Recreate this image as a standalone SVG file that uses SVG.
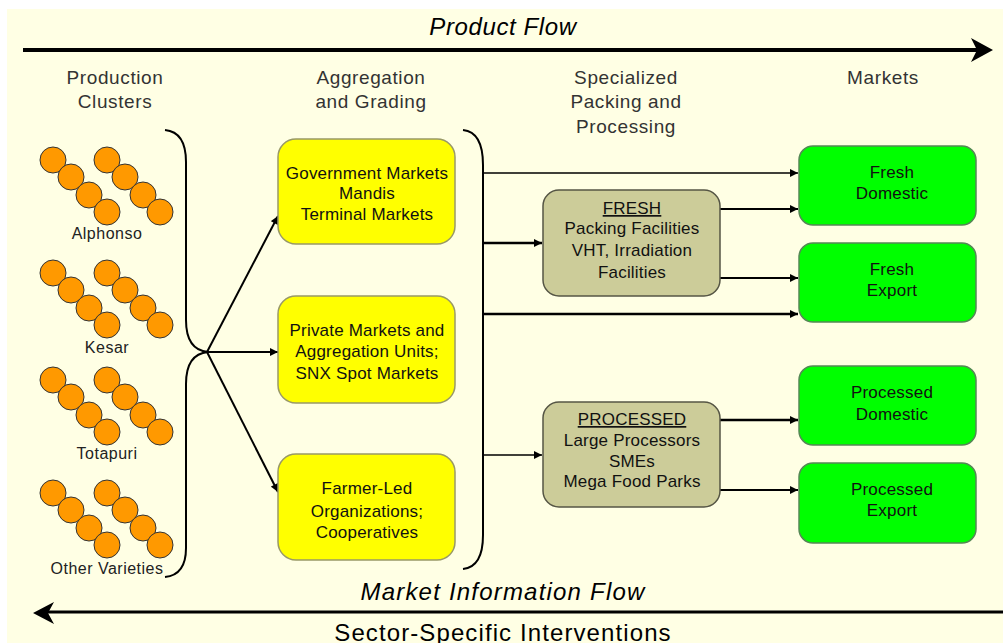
<svg xmlns="http://www.w3.org/2000/svg" width="1007" height="643" viewBox="0 0 1007 643">
<defs>
<style>
text{font-family:"Liberation Sans",Arial,sans-serif;text-anchor:middle;fill:#111}
.hdr{font-size:19px;fill:#333;letter-spacing:0.6px}
.flow{font-size:24px;font-style:italic;fill:#000}
.lbl{font-size:16px;fill:#222;letter-spacing:0.5px}
.bx{font-size:17px;letter-spacing:0.2px}
.yel{fill:#FFFF00;stroke:#999966;stroke-width:1.5}
.kha{fill:#CCCC99;stroke:#555544;stroke-width:1.5}
.grn{fill:#00FF00;stroke:#558855;stroke-width:1.5}
.mango{fill:#FF9900;stroke:#333;stroke-width:1}
.ln{fill:none;stroke:#000}
.brace{fill:none;stroke:#000;stroke-width:2}
</style>
<marker id="ah" viewBox="0 0 10 10" refX="10" refY="5" markerWidth="9" markerHeight="8" markerUnits="userSpaceOnUse" orient="auto">
<path d="M0,0 L10,5 L0,10 Z" fill="#000"/>
</marker>
<g id="cl">
<circle class="mango" cx="53" cy="0" r="13"/>
<circle class="mango" cx="71" cy="17" r="13"/>
<circle class="mango" cx="89" cy="35" r="13"/>
<circle class="mango" cx="107" cy="52" r="13"/>
<circle class="mango" cx="107" cy="0" r="13"/>
<circle class="mango" cx="125" cy="17" r="13"/>
<circle class="mango" cx="143" cy="35" r="13"/>
<circle class="mango" cx="160" cy="52" r="13"/>
</g>
</defs>
<rect x="0" y="0" width="1007" height="643" fill="#FFFFFF"/>
<rect x="7" y="9" width="996" height="634" fill="#FFFFE4"/>

<text class="flow" x="503" y="35" style="letter-spacing:0.6px">Product Flow</text>
<line x1="23" y1="50" x2="978" y2="50" stroke="#000" stroke-width="4"/>
<path d="M993,50 L971,38 L977,50 L971,62 Z" fill="#000"/>

<text class="hdr" x="115" y="84">Production</text>
<text class="hdr" x="115" y="108">Clusters</text>
<text class="hdr" x="371" y="84">Aggregation</text>
<text class="hdr" x="371" y="108">and Grading</text>
<text class="hdr" x="626" y="84">Specialized</text>
<text class="hdr" x="626" y="108">Packing and</text>
<text class="hdr" x="626" y="133">Processing</text>
<text class="hdr" x="883" y="84">Markets</text>

<g id="alphonso"><use href="#cl" y="160"/><text class="lbl" x="107" y="239">Alphonso</text></g>
<g id="kesar"><use href="#cl" y="273"/><text class="lbl" x="107" y="353">Kesar</text></g>
<g id="totapuri"><use href="#cl" y="380"/><text class="lbl" x="107" y="459">Totapuri</text></g>
<g id="other"><use href="#cl" y="493"/><text class="lbl" x="107" y="574">Other Varieties</text></g>

<g id="connectors">
<path class="brace" d="M165,130 Q186,132 186,162 L186,320 Q186,350 208,352"/>
<path class="brace" d="M208,352 Q186,354 186,384 L186,548 Q186,575 165,577"/>
<path class="brace" d="M463,130 Q483,132 483,165 L483,535 Q483,567 463,569"/>
<line class="ln" stroke-width="2" x1="207" y1="352" x2="278" y2="216" marker-end="url(#ah)"/>
<line class="ln" stroke-width="2" x1="207" y1="352" x2="278" y2="352" marker-end="url(#ah)"/>
<line class="ln" stroke-width="2" x1="207" y1="352" x2="278" y2="492" marker-end="url(#ah)"/>
<line class="ln" stroke-width="1.5" x1="483" y1="173" x2="798" y2="173" marker-end="url(#ah)"/>
<line class="ln" stroke-width="2.5" x1="483" y1="243" x2="542" y2="243" marker-end="url(#ah)"/>
<line class="ln" stroke-width="2.5" x1="483" y1="314" x2="798" y2="314" marker-end="url(#ah)"/>
<line class="ln" stroke-width="1.5" x1="483" y1="455" x2="542" y2="455" marker-end="url(#ah)"/>
<line class="ln" stroke-width="2" x1="720" y1="209" x2="798" y2="209" marker-end="url(#ah)"/>
<line class="ln" stroke-width="2" x1="720" y1="278" x2="798" y2="278" marker-end="url(#ah)"/>
<line class="ln" stroke-width="2.5" x1="720" y1="420" x2="798" y2="420" marker-end="url(#ah)"/>
<line class="ln" stroke-width="2" x1="720" y1="490" x2="798" y2="490" marker-end="url(#ah)"/>
</g>

<g id="gov">
<rect class="yel" x="278" y="139" width="177" height="105" rx="18"/>
<text class="bx" x="367" y="179">Government Markets</text>
<text class="bx" x="367" y="199">Mandis</text>
<text class="bx" x="367" y="220">Terminal Markets</text>
</g>
<g id="private">
<rect class="yel" x="278" y="296" width="177" height="107" rx="18"/>
<text class="bx" x="367" y="336">Private Markets and</text>
<text class="bx" x="367" y="357">Aggregation Units;</text>
<text class="bx" x="367" y="379">SNX Spot Markets</text>
</g>
<g id="farmer">
<rect class="yel" x="278" y="454" width="177" height="106" rx="18"/>
<text class="bx" x="367" y="494">Farmer-Led</text>
<text class="bx" x="367" y="517">Organizations;</text>
<text class="bx" x="367" y="538">Cooperatives</text>
</g>

<g id="fresh">
<rect class="kha" x="543" y="190" width="177" height="106" rx="16"/>
<text class="bx" x="632" y="214" text-decoration="underline">FRESH</text>
<text class="bx" x="632" y="234">Packing Facilities</text>
<text class="bx" x="632" y="256">VHT, Irradiation</text>
<text class="bx" x="632" y="278">Facilities</text>
</g>
<g id="processed">
<rect class="kha" x="543" y="402" width="177" height="105" rx="16"/>
<text class="bx" x="632" y="425" text-decoration="underline">PROCESSED</text>
<text class="bx" x="632" y="446">Large Processors</text>
<text class="bx" x="632" y="467">SMEs</text>
<text class="bx" x="632" y="487">Mega Food Parks</text>
</g>

<g id="freshDomestic">
<rect class="grn" x="799" y="146" width="177" height="79" rx="14"/>
<text class="bx" x="892" y="178">Fresh</text>
<text class="bx" x="892" y="199">Domestic</text>
</g>
<g id="freshExport">
<rect class="grn" x="799" y="243" width="177" height="79" rx="14"/>
<text class="bx" x="892" y="275">Fresh</text>
<text class="bx" x="892" y="296">Export</text>
</g>
<g id="processedDomestic">
<rect class="grn" x="799" y="366" width="177" height="79" rx="14"/>
<text class="bx" x="892" y="398">Processed</text>
<text class="bx" x="892" y="420">Domestic</text>
</g>
<g id="processedExport">
<rect class="grn" x="799" y="463" width="177" height="80" rx="14"/>
<text class="bx" x="892" y="495">Processed</text>
<text class="bx" x="892" y="516">Export</text>
</g>

<text class="flow" x="503" y="600" style="letter-spacing:1.2px">Market Information Flow</text>
<line x1="1003" y1="612" x2="48" y2="612" stroke="#000" stroke-width="3"/>
<path d="M33,613 L54,602 L48,613 L54,624 Z" fill="#000"/>
<text x="503" y="641" style="font-size:24px;fill:#000;letter-spacing:1.1px">Sector-Specific Interventions</text>
</svg>
